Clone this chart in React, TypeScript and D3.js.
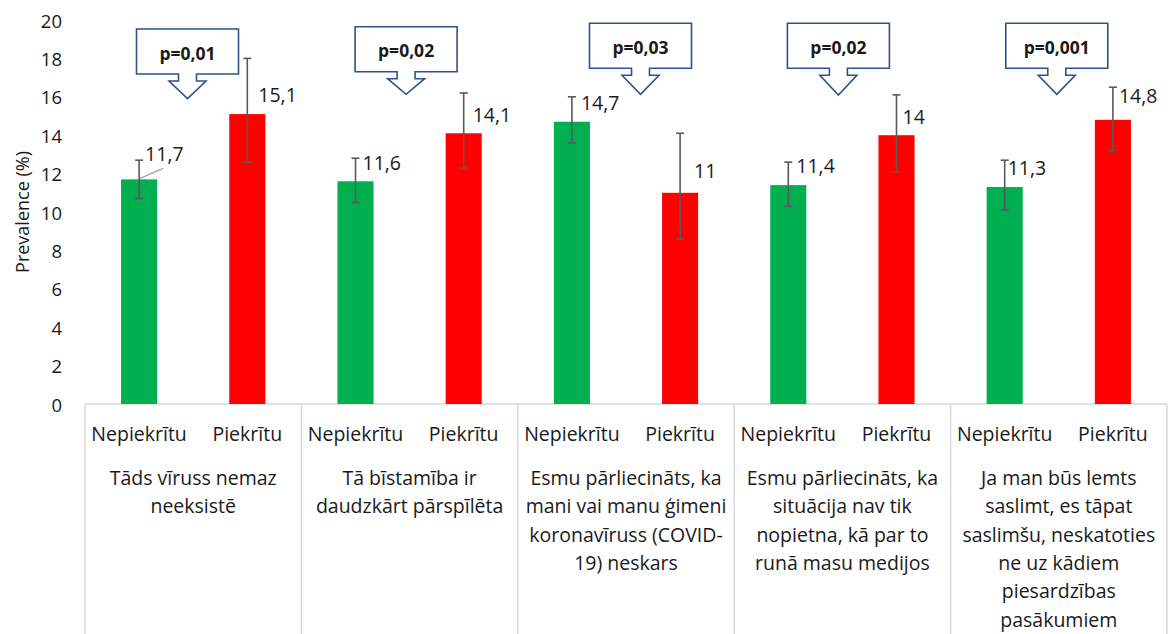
import React from "react";
import * as d3 from "d3";

// ---- data ----
const groupLabels: string[][] = [
  ["Tāds vīruss nemaz", "neeksistē"],
  ["Tā bīstamība ir", "daudzkārt pārspīlēta"],
  ["Esmu pārliecināts, ka", "mani vai manu ģimeni", "koronavīruss (COVID-", "19) neskars"],
  ["Esmu pārliecināts, ka", "situācija nav tik", "nopietna, kā par to", "runā masu medijos"],
  ["Ja man būs lemts", "saslimt, es tāpat", "saslimšu, neskatoties", "ne uz kādiem", "piesardzības", "pasākumiem"],
];
const subCategories = ["Nepiekrītu", "Piekrītu"];
const disagreeValues = [11.7, 11.6, 14.7, 11.4, 11.3];
const disagreeLow = [10.7, 10.5, 13.6, 10.3, 10.1];
const disagreeHigh = [12.7, 12.8, 16.0, 12.6, 12.7];
const agreeValues = [15.1, 14.1, 11.0, 14.0, 14.8];
const agreeLow = [12.6, 12.3, 8.6, 12.1, 13.2];
const agreeHigh = [18.0, 16.2, 14.1, 16.1, 16.5];
const pValues = ["p=0,01", "p=0,02", "p=0,03", "p=0,02", "p=0,001"];
const yTicks = [0, 2, 4, 6, 8, 10, 12, 14, 16, 18, 20];
const yTitle = "Prevalence (%)";

// ---- layout (pixel offsets only) ----
const W = 1170;
const H = 634;
const PLOT_LEFT = 85;
const PLOT_RIGHT = 1167;
const PLOT_TOP = 20;
const PLOT_BOTTOM = 404;
// label offsets relative to bar centre / bar top: [dx, dy]
const labelOffsets: [number, number][][] = [
  [[6, -26], [11, -19.5]],
  [[7, -19], [9, -19]],
  [[9, -19], [14, -22]],
  [[8, -20], [6, -18.5]],
  [[3, -19.5], [6, -24]],
];
// callout centre x offset from group centre, box top, tip y
const calloutLayout: [number, number, number][] = [
  [-5.7, 29, 98.7],
  [-3.5, 26.7, 94.3],
  [14.5, 23.3, 94.3],
  [-4, 23.3, 95],
  [-2, 23.3, 94.3],
];

const FONT = "'Open Sans', 'Noto Sans', sans-serif";
const TEXT = "#1a1a1a";
const GREEN = "#00B050";
const RED = "#FF0000";
const GRID = "#d9d9d9";
const ERR = "#595959";
const CALLOUT = "#2F528F";

const fmt = (v: number) => String(v).replace(".", ",");

export default function App() {
  const idx = groupLabels.map((_, i) => i);
  const x0 = d3.scaleBand<number>().domain(idx).range([PLOT_LEFT, PLOT_RIGHT]).paddingInner(0).paddingOuter(0);
  const x1 = d3.scaleBand<number>().domain([0, 1]).range([0, x0.bandwidth()]);
  const y = d3.scaleLinear().domain([0, 20]).range([PLOT_BOTTOM, PLOT_TOP]);
  const barW = x1.bandwidth() / 3;

  const series = [
    { values: disagreeValues, low: disagreeLow, high: disagreeHigh, color: GREEN },
    { values: agreeValues, low: agreeLow, high: agreeHigh, color: RED },
  ];

  const boxW = 102;
  const boxH = 45;
  const stemW = 18;
  const stemH = 7;
  const headW = 37;

  return (
    <svg
      width={W}
      height={H}
      style={{ position: "absolute", left: 0, top: 0, background: "#fff" }}
      fontFamily={FONT}
    >
      <rect x={0} y={0} width={W} height={H} fill="#fff" />
      {/* y tick labels */}
      {yTicks.map((t) => (
        <text key={t} x={62} y={y(t)} textAnchor="end" dominantBaseline="central" fontSize={18.5} fill={TEXT}>
          {t}
        </text>
      ))}
      <text
        transform={`translate(22,${(PLOT_TOP + PLOT_BOTTOM) / 2}) rotate(-90)`}
        textAnchor="middle"
        dominantBaseline="central"
        fontSize={18}
        fill={TEXT}
      >
        {yTitle}
      </text>

      {/* category box */}
      <line x1={PLOT_LEFT} x2={PLOT_RIGHT} y1={PLOT_BOTTOM} y2={PLOT_BOTTOM} stroke={GRID} strokeWidth={1.5} />
      {[...idx, idx.length].map((i) => {
        const xx = i < idx.length ? (x0(i) as number) : PLOT_RIGHT;
        return <line key={i} x1={xx} x2={xx} y1={PLOT_BOTTOM} y2={H} stroke={GRID} strokeWidth={1.5} />;
      })}

      {/* bars */}
      {idx.map((g) =>
        series.map((s, si) => {
          const cx = (x0(g) as number) + (x1(si) as number) + x1.bandwidth() / 2;
          const v = s.values[g];
          return (
            <g key={`${g}-${si}`}>
              <rect x={cx - barW / 2} y={y(v)} width={barW} height={y(0) - y(v)} fill={s.color} />
            </g>
          );
        })
      )}

      {/* leader line for first label */}
      {(() => {
        const cx = (x0(0) as number) + (x1(0) as number) + x1.bandwidth() / 2;
        const by = y(disagreeValues[0]);
        return <line x1={cx + 1} y1={by - 1} x2={cx + 24} y2={by - 11} stroke="#a6a6a6" strokeWidth={1.5} />;
      })()}

      {/* error bars */}
      {idx.map((g) =>
        series.map((s, si) => {
          const cx = (x0(g) as number) + (x1(si) as number) + x1.bandwidth() / 2;
          const lo = y(s.low[g]);
          const hi = y(s.high[g]);
          return (
            <g key={`e${g}-${si}`} stroke={ERR} strokeWidth={1.6}>
              <line x1={cx} x2={cx} y1={hi} y2={lo} />
              <line x1={cx - 4} x2={cx + 4} y1={hi} y2={hi} />
              <line x1={cx - 4} x2={cx + 4} y1={lo} y2={lo} />
            </g>
          );
        })
      )}

      {/* value labels */}
      {idx.map((g) =>
        series.map((s, si) => {
          const cx = (x0(g) as number) + (x1(si) as number) + x1.bandwidth() / 2;
          const v = s.values[g];
          const [dx, dy] = labelOffsets[g][si];
          return (
            <text
              key={`l${g}-${si}`}
              x={cx + dx}
              y={y(v) + dy}
              dominantBaseline="central"
              fontSize={19.5}
              fill={TEXT}
            >
              {fmt(v)}
            </text>
          );
        })
      )}

      {/* callouts */}
      {idx.map((g) => {
        const gc = (x0(g) as number) + x0.bandwidth() / 2;
        const [dxc, top, tip] = calloutLayout[g];
        const cx = gc + dxc;
        const bottom = top + boxH;
        const headTop = bottom + stemH;
        const path = [
          [cx - boxW / 2, top],
          [cx + boxW / 2, top],
          [cx + boxW / 2, bottom],
          [cx + stemW / 2, bottom],
          [cx + stemW / 2, headTop],
          [cx + headW / 2, headTop],
          [cx, tip],
          [cx - headW / 2, headTop],
          [cx - stemW / 2, headTop],
          [cx - stemW / 2, bottom],
          [cx - boxW / 2, bottom],
        ];
        const d = d3.line()(path as [number, number][]) + "Z";
        return (
          <g key={`c${g}`}>
            <path d={d} fill="#fff" stroke={CALLOUT} strokeWidth={1.6} strokeLinejoin="miter" />
            <text
              x={cx}
              y={top + boxH / 2 + 1}
              textAnchor="middle"
              dominantBaseline="central"
              fontSize={17.5}
              fontWeight="bold"
              fill={TEXT}
            >
              {pValues[g]}
            </text>
          </g>
        );
      })}

      {/* sub-category labels */}
      {idx.map((g) =>
        subCategories.map((c, si) => {
          const cx = (x0(g) as number) + (x1(si) as number) + x1.bandwidth() / 2;
          return (
            <text key={`s${g}-${si}`} x={cx} y={433} textAnchor="middle" dominantBaseline="central" fontSize={19.5} fill={TEXT}>
              {c}
            </text>
          );
        })
      )}

      {/* group labels */}
      {idx.map((g) => {
        const gc = (x0(g) as number) + x0.bandwidth() / 2;
        return (
          <text key={`g${g}`} textAnchor="middle" fontSize={19.5} fill={TEXT}>
            {groupLabels[g].map((line, li) => (
              <tspan key={li} x={gc} y={477.5 + li * 28.3} dominantBaseline="central">
                {line}
              </tspan>
            ))}
          </text>
        );
      })}
    </svg>
  );
}
